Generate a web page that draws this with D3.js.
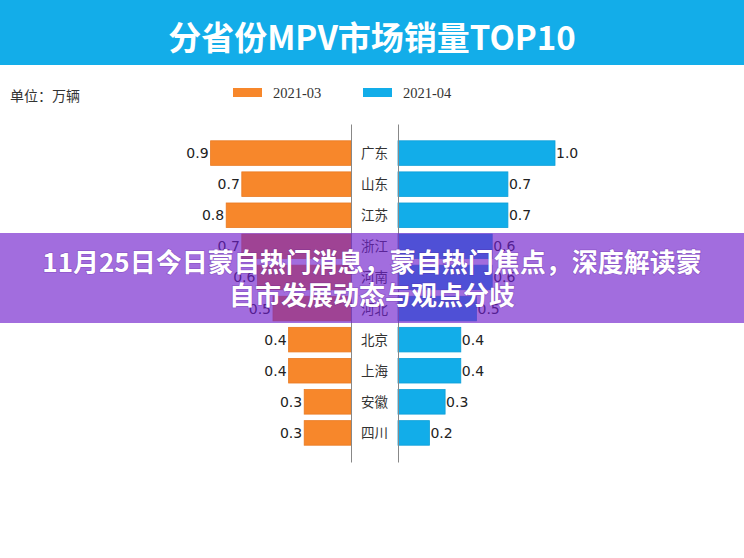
<!DOCTYPE html>
<html>
<head>
<meta charset="utf-8">
<script src="https://cdn.jsdelivr.net/npm/d3@7/dist/d3.min.js"></script>
<style>
  html, body { margin: 0; padding: 0; background: #fff; }
  svg { display: block; }
</style>
</head>
<body>
<svg id="chart" width="744" height="558"></svg>
<script>
// ---- data ----
const categories = ["广东", "山东", "江苏", "浙江", "河南", "河北", "北京", "上海", "安徽", "四川"];
const series = ["2021-03", "2021-04"];
const values0303 = [0.9, 0.7, 0.8, 0.7, 0.6, 0.5, 0.4, 0.4, 0.3, 0.3];
const values0304 = [1.0, 0.7, 0.7, 0.6, 0.6, 0.5, 0.4, 0.4, 0.3, 0.2];
const titleText = "分省份MPV市场销量TOP10";
const unitText = "单位：万辆";
const bannerLines = ["11月25日今日蒙自热门消息，蒙自热门焦点，深度解读蒙", "自市发展动态与观点分歧"];

const colors = ["#f7872b", "#12ade9"];

const svg = d3.select("#chart");
const W = 744, H = 558;

// header
svg.append("rect").attr("x", 0).attr("y", 0).attr("width", W).attr("height", 65).attr("fill", "#13ade9");
svg.append("text").attr("x", W / 2).attr("y", 50)
  .attr("text-anchor", "middle")
  .attr("font-family", "'Noto Sans CJK SC', sans-serif")
  .attr("font-weight", 700).attr("font-size", 33)
  .attr("fill", "#fff").text(titleText);

// unit
svg.append("text").attr("x", 10).attr("y", 101)
  .attr("font-family", "'Noto Sans CJK SC', sans-serif")
  .attr("font-size", 14).attr("fill", "#333").text(unitText);

// legend
const legendX = [233, 363];
series.forEach((s, i) => {
  svg.append("rect").attr("x", legendX[i]).attr("y", 88).attr("width", 29).attr("height", 9).attr("fill", colors[i]);
  svg.append("text").attr("x", legendX[i] + 40).attr("y", 98)
    .attr("font-family", "'Liberation Serif', 'DejaVu Serif', serif")
    .attr("font-size", 14.5).attr("fill", "#333").text(s);
});

// scales
const y = d3.scaleBand().domain(categories).range([124, 462]).paddingInner(0.21).paddingOuter(0.54);
const leftEdge = 351, rightEdge = 398;
const xL = d3.scaleLinear().domain([0, 1]).range([leftEdge, leftEdge - 156]);
const xR = d3.scaleLinear().domain([0, 1]).range([rightEdge, rightEdge + 157]);

// bars
const dataL = categories.map((c, i) => ({ c, v: values0303[i] }));
const dataR = categories.map((c, i) => ({ c, v: values0304[i] }));

svg.append("g").selectAll("rect").data(dataL).join("rect")
  .attr("x", d => xL(d.v)).attr("y", d => y(d.c))
  .attr("width", d => xL(0) - xL(d.v)).attr("height", y.bandwidth())
  .attr("fill", colors[0]).attr("stroke", "#e97a22").attr("stroke-width", 0.8);

svg.append("g").selectAll("rect").data(dataR).join("rect")
  .attr("x", xR(0)).attr("y", d => y(d.c))
  .attr("width", d => xR(d.v) - xR(0)).attr("height", y.bandwidth())
  .attr("fill", colors[1]).attr("stroke", "#0c9fd8").attr("stroke-width", 0.8);

// axes (vertical lines)
svg.append("g").attr("transform", `translate(${leftEdge},0)`)
  .call(d3.axisRight(y).tickSize(0).tickSizeOuter(0).tickFormat(""));
svg.append("g").attr("transform", `translate(${rightEdge},0)`)
  .call(d3.axisLeft(y).tickSize(0).tickSizeOuter(0).tickFormat(""));
svg.selectAll(".domain").attr("stroke", "#888").attr("stroke-width", 1);

// category labels
svg.append("g").selectAll("text").data(categories).join("text")
  .attr("x", (leftEdge + rightEdge) / 2).attr("y", d => y(d) + y.bandwidth() / 2 + 5)
  .attr("text-anchor", "middle")
  .attr("font-family", "'Noto Sans CJK SC', sans-serif")
  .attr("font-size", 13.5).attr("fill", "#333").text(d => d);

// value labels
const fmt = d3.format(".1f");
svg.append("g").selectAll("text").data(dataL).join("text")
  .attr("x", d => xL(d.v) - 2).attr("y", d => y(d.c) + y.bandwidth() / 2 + 5)
  .attr("text-anchor", "end")
  .attr("font-family", "'DejaVu Sans', sans-serif")
  .attr("font-size", 14).attr("fill", "#222").text(d => fmt(d.v));
svg.append("g").selectAll("text").data(dataR).join("text")
  .attr("x", d => xR(d.v) + 1).attr("y", d => y(d.c) + y.bandwidth() / 2 + 5)
  .attr("text-anchor", "start")
  .attr("font-family", "'DejaVu Sans', sans-serif")
  .attr("font-size", 14).attr("fill", "#222").text(d => fmt(d.v));

// overlay banner
svg.append("rect").attr("x", 0).attr("y", 233).attr("width", W).attr("height", 90)
  .attr("fill", "rgb(112,30,205)").attr("fill-opacity", 0.65);
bannerLines.forEach((t, i) => {
  svg.append("text").attr("x", W / 2).attr("y", 272 + i * 33)
    .attr("text-anchor", "middle")
    .attr("font-family", "'Noto Sans CJK SC', sans-serif")
    .attr("font-weight", 700).attr("font-size", 26)
    .attr("fill", "#fff")
    .style("paint-order", "stroke").attr("stroke", "rgba(80,20,140,0.25)").attr("stroke-width", 1.5)
    .text(t);
});
</script>
</body>
</html>
